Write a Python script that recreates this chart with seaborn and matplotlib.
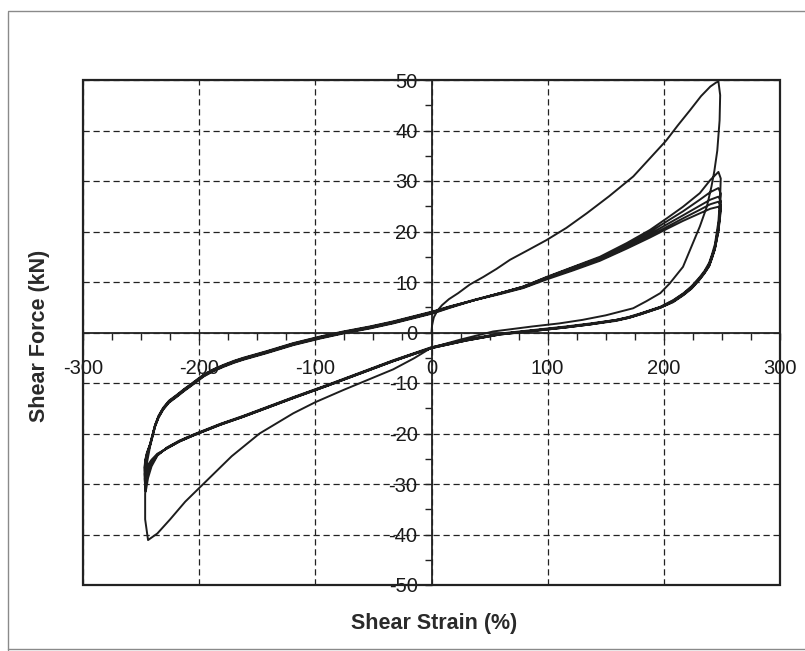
import matplotlib
matplotlib.use("Agg")
import matplotlib.pyplot as plt
from matplotlib.lines import Line2D
from matplotlib.patches import Rectangle
from matplotlib.ticker import MultipleLocator
import pandas as pd
import seaborn as sns

# ---- hysteresis record: shear strain (%) vs shear force (kN) ----
# virgin loading from the origin to the first peak
strain_virgin = [0, 0.5, 2, 5, 9, 15, 23, 33, 44.6, 56, 67.6, 83, 99, 116, 133.6,
                 153, 173.7, 188, 202, 212, 222.5, 232, 240, 245, 247]
force_virgin = [0, 1.5, 3.0, 4.3, 5.4, 6.6, 7.8, 9.5, 11, 12.6, 14.4, 16.3, 18.3, 20.7,
                23.6, 27, 30.9, 34.5, 38, 41, 44, 46.8, 48.7, 49.5, 49.7]

# first unloading, from the first peak to the first negative extreme
strain_down_1 = [247, 248.5, 248, 246, 243.5, 241, 237, 231, 225, 216.5, 205, 197, 185,
                 173.6, 150, 130, 110, 87, 53, 25, 0, -15, -33, -55, -76, -100, -119,
                 -148, -172, -196, -212, -225, -236, -244]
force_down_1 = [49.7, 47, 42, 36, 32, 28.9, 24.9, 21, 17.7, 13, 9.7, 7.8, 6.2,
                4.8, 3.4, 2.5, 1.8, 1.2, 0.2, -1.4, -3, -5.1, -7.3, -9.4, -11.4, -13.8,
                -16, -20, -24.5, -29.9, -33.5, -37, -39.8, -41.1]

# later cycles: unloading branches (positive peak -> negative extreme)
strain_down = [247, 249, 248.5, 247, 244, 241.5, 239, 235, 231, 224, 217, 208, 197,
               188, 180, 170, 159, 137, 116, 88, 59, 30, 0, -33, -62, -90, -119, -133,
               -162, -182, -205, -217, -228, -236, -241, -244, -246]
force_down_2 = [31.8, 30.5, 27, 22, 17.5, 15.5, 13.8, 12.2, 11, 9.2, 7.8, 6.4, 5.1,
                4.4, 3.8, 3.1, 2.5, 1.8, 1.2, 0.5, -0.2, -1.4, -2.9, -5.5, -8.0, -10.4,
                -12.8, -14.0, -16.5, -18.1, -20.2, -21.4, -22.8, -24.4, -26.5, -28.8,
                -31.5]
force_down_3 = [28.6, 27.5, 25, 21, 17, 15.2, 13.5, 12.0, 10.8, 9.0, 7.7, 6.3, 5.0,
                4.3, 3.7, 3.0, 2.5, 1.7, 1.1, 0.4, -0.3, -1.5, -3.0, -5.6, -8.1, -10.5,
                -12.9, -14.1, -16.6, -18.2, -20.3, -21.5, -22.9, -24.3, -26, -28,
                -29.9]
force_down_4 = [26.9, 26, 24, 20.5, 16.8, 15.0, 13.3, 11.9, 10.7, 8.9, 7.6, 6.2, 5.0,
                4.3, 3.7, 3.0, 2.4, 1.7, 1.1, 0.4, -0.3, -1.5, -3.0, -5.6, -8.1, -10.5,
                -12.9, -14.1, -16.6, -18.2, -20.3, -21.5, -22.9, -24.2, -25.7, -27.2,
                -28.6]
force_down_5 = [25.9, 25.2, 23.5, 20.2, 16.6, 14.8, 13.2, 11.8, 10.6, 8.8, 7.5, 6.1,
                4.9, 4.2, 3.6, 2.9, 2.4, 1.6, 1.0, 0.3, -0.4, -1.6, -3.1, -5.7, -8.2,
                -10.6, -13.0, -14.2, -16.7, -18.3, -20.4, -21.6, -23.0, -24.2, -25.5,
                -26.6, -27.8]
force_down_6 = [24.9, 24.4, 23, 20, 16.5, 14.7, 13.1, 11.7, 10.5, 8.7, 7.4, 6.0, 4.9,
                4.2, 3.6, 2.9, 2.3, 1.6, 1.0, 0.3, -0.4, -1.6, -3.1, -5.7, -8.2, -10.6,
                -13.0, -14.2, -16.7, -18.3, -20.4, -21.6, -23.0, -24.0, -25.2, -26.2,
                -27.2]

# reloading branches (negative extreme -> next positive peak)
strain_up_1 = [-244, -246.5, -246.5, -245.5, -242.3, -240, -238, -235, -231, -226,
               -219, -213, -207.6, -196, -188, -179, -170, -162, -142, -119, -96, -76,
               -53, -33, -15.7, 1.5, 16, 37, 59, 79, 99, 122, 145, 168, 188, 202.5,
               216.5, 231, 240, 247]
strain_up = [-246, -247, -246.5, -245, -242.3, -240, -238, -235, -231, -226, -219,
             -213, -207.6, -196, -188, -179, -170, -162, -142, -119, -96, -76, -53,
             -33, -15.7, 1.5, 16, 37, 59, 79, 99, 122, 145, 168, 188, 202.5, 216.5,
             231, 240, 247]
force_up_1 = [-41.1, -37, -32, -26.5, -22.6, -20.5, -18.7, -16.9, -15.3, -13.9, -12.7,
              -11.6, -10.7, -8.7, -7.7, -6.8, -6.0, -5.4, -4.1, -2.5, -1.2, -0.2, 0.8,
              1.8, 2.8, 3.8, 4.9, 6.4, 7.8, 9.1, 11, 13, 15, 17.7, 20.3, 22.6, 24.9,
              27.6, 30.2, 31.8]
force_up_2 = [-31.5, -29, -26.5, -24.5, -22.4, -20.4, -18.6, -16.8, -15.2, -13.8,
              -12.6, -11.5, -10.6, -8.6, -7.6, -6.7, -5.9, -5.3, -4.0, -2.4, -1.1, -0.1,
              0.9, 1.9, 2.9, 3.9, 5.0, 6.4, 7.8, 9.1, 10.9, 12.9, 14.8, 17.4, 19.9,
              22.0, 24.0, 26.3, 27.8, 28.6]
force_up_3 = [-29.9, -28, -26, -24.2, -22.3, -20.3, -18.5, -16.7, -15.1, -13.7, -12.5,
              -11.4, -10.5, -8.5, -7.5, -6.6, -5.8, -5.2, -3.9, -2.3, -1.0, 0, 1.0, 2.0,
              3.0, 4.0, 5.1, 6.5, 7.8, 9.0, 10.8, 12.7, 14.6, 17.1, 19.5, 21.4, 23.2,
              25.1, 26.3, 26.9]
force_up_4 = [-28.6, -27.2, -25.6, -24.0, -22.2, -20.2, -18.4, -16.6, -15.0, -13.6,
              -12.4, -11.3, -10.4, -8.4, -7.4, -6.5, -5.7, -5.1, -3.8, -2.2, -0.9, 0.1,
              1.1, 2.1, 3.1, 4.1, 5.1, 6.4, 7.7, 8.9, 10.7, 12.5, 14.4, 16.8, 19.1,
              20.9, 22.6, 24.3, 25.4, 25.9]
force_up_5 = [-27.8, -26.7, -25.3, -23.8, -22.1, -20.1, -18.3, -16.5, -14.9, -13.5,
              -12.3, -11.2, -10.3, -8.3, -7.3, -6.4, -5.6, -5.0, -3.7, -2.1, -0.8, 0.2,
              1.2, 2.2, 3.2, 4.2, 5.2, 6.4, 7.6, 8.8, 10.5, 12.3, 14.2, 16.6, 18.8,
              20.5, 22.1, 23.6, 24.5, 24.9]

x_ticks = [-300, -200, -100, 0, 100, 200, 300]
y_ticks = [-50, -40, -30, -20, -10, 0, 10, 20, 30, 40, 50]
x_title = "Shear Strain (%)"
y_title = "Shear Force (kN)"

# ---- assemble the loading path in time order ----
branches = [
    (strain_virgin, force_virgin),
    (strain_down_1, force_down_1),
    (strain_up_1, force_up_1),
    (strain_down, force_down_2),
    (strain_up, force_up_2),
    (strain_down, force_down_3),
    (strain_up, force_up_3),
    (strain_down, force_down_4),
    (strain_up, force_up_4),
    (strain_down, force_down_5),
    (strain_up, force_up_5),
    (strain_down, force_down_6),
]
path_strain, path_force = [], []
for s, f in branches:
    path_strain.extend(s)
    path_force.extend(f)
df = pd.DataFrame({"strain": path_strain, "force": path_force})

# ---- styling ----
sns.set_theme(style="white")
plt.rcParams["font.family"] = ["Liberation Sans", "DejaVu Sans"]
plt.rcParams["axes.unicode_minus"] = False

fig = plt.figure(figsize=(8.05, 6.51), dpi=100)
W, H = 805, 651
ax = fig.add_axes([83 / W, 1 - 585 / H, 697 / W, 505 / H])
ax.set_facecolor("white")

sns.lineplot(data=df, x="strain", y="force", sort=False, estimator=None,
             color="#1d1d1d", linewidth=1.4, ax=ax, zorder=3)

ax.set_xlim(-300, 300)
ax.set_ylim(-50, 50)
ax.set_xticks(x_ticks)
ax.set_yticks(y_ticks)
ax.xaxis.set_minor_locator(MultipleLocator(25))
ax.yaxis.set_minor_locator(MultipleLocator(5))
ax.set_xlabel("")
ax.set_ylabel("")

# axes cross at the origin
ax.spines["left"].set_position(("data", 0))
ax.spines["bottom"].set_position(("data", 0))
for side in ("left", "bottom"):
    ax.spines[side].set_color("#222222")
    ax.spines[side].set_linewidth(1.3)
    ax.spines[side].set_zorder(2)
ax.spines["top"].set_visible(False)
ax.spines["right"].set_visible(False)

# plot-area frame
ax.add_patch(Rectangle((0, 0), 1, 1, transform=ax.transAxes, fill=False,
                       edgecolor="#222222", linewidth=1.6, clip_on=False, zorder=4))

ax.grid(True, which="major", color="#222222", linestyle=(0, (5, 3)), linewidth=0.9)
ax.set_axisbelow(True)

ax.tick_params(axis="x", which="both", direction="out", length=5, width=1.0,
               color="#222222", bottom=True, pad=14, labelsize=14.5, labelcolor="#1a1a1a")
ax.tick_params(axis="y", which="both", direction="out", length=5, width=1.0,
               color="#222222", left=True, pad=5, labelsize=14.5, labelcolor="#1a1a1a")

fig.text(434 / W, 1 - 623 / H, x_title, ha="center", va="center",
         fontsize=15.5, fontweight="bold", color="#2a2a2a")
fig.text(40 / W, 1 - 336 / H, y_title, ha="center", va="center", rotation=90,
         fontsize=15.5, fontweight="bold", color="#2a2a2a")

# chart-area border
border = dict(color="#8a8a8a", linewidth=1.0, transform=fig.transFigure)
fig.add_artist(Line2D([8 / W, 8 / W], [1 - 12 / H, 1 - 650 / H], **border))
fig.add_artist(Line2D([8 / W, 1.0], [1 - 11 / H, 1 - 11 / H], **border))
fig.add_artist(Line2D([8 / W, 1.0], [1 - 649 / H, 1 - 649 / H], **border))

fig.savefig("out.png", dpi=100, facecolor="white")
